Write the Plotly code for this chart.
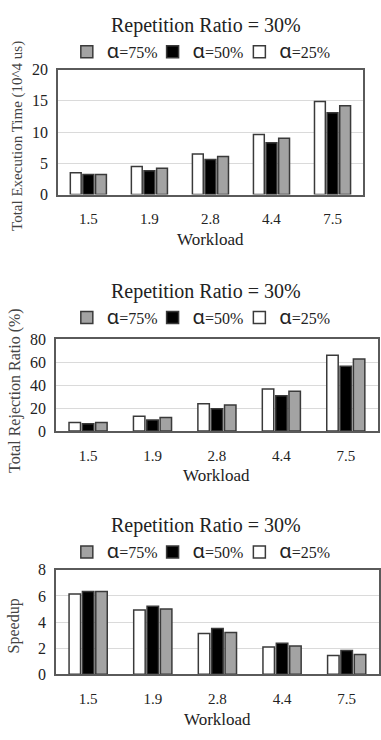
import plotly.graph_objects as go

workload = ["1.5", "1.9", "2.8", "4.4", "7.5"]
series_names = ["α=25%", "α=50%", "α=75%"]

exec_a25 = [3.5, 4.5, 6.5, 9.6, 14.9]
exec_a50 = [3.2, 3.8, 5.6, 8.3, 13.1]
exec_a75 = [3.2, 4.2, 6.1, 9.0, 14.2]

rej_a25 = [7.5, 12.9, 23.8, 36.7, 66.0]
rej_a50 = [6.3, 9.7, 19.5, 30.7, 56.5]
rej_a75 = [7.5, 11.8, 22.6, 34.7, 62.8]

spd_a25 = [6.15, 4.93, 3.12, 2.09, 1.44]
spd_a50 = [6.33, 5.21, 3.51, 2.37, 1.82]
spd_a75 = [6.33, 5.00, 3.21, 2.17, 1.52]

y_titles = ["Total Execution Time (10^4 us)", "Total Rejection Ratio (%)", "Speedup"]
y_ranges = [[0, 20], [0, 80], [0, 8]]
y_dticks = [5, 20, 2]
chart_title = "Repetition Ratio = 30%"

W, H = 381, 740
FONT = "Liberation Serif, Times New Roman, serif"
colors = ["#ffffff", "#000000", "#a3a3a3"]
# legend entry x positions (px of legend box left), one per series (25%, 50%, 75%)
legend_x = [240, 153, 67]

def px(x):
    return x / W

def py(y):
    return 1 - y / H

# pixel layout per panel: left, right, top, bottom, title_y, legend_y, xlabel_y, ytitle_x, ytitle_y, ytitle_size
panels = [
    (58, 364, 63, 191, 18, 45, 237, 18, 131, 15),
    (56, 379, 339, 433, 290, 317, 478, 15, 391, 16),
    (56, 380, 575, 682, 530, 557, 728, 15, 632, 16),
]

data = [
    (exec_a25, exec_a50, exec_a75),
    (rej_a25, rej_a50, rej_a75),
    (spd_a25, spd_a50, spd_a75),
]

fig = go.Figure()
annotations = []
layout = {}
for i, (vals, p) in enumerate(zip(data, panels)):
    left, right, top, bottom, title_y, legend_y, xlabel_y, ytitle_x, ytitle_y, ytitle_size = p
    n = "" if i == 0 else str(i + 1)
    xa, ya = "x" + n, "y" + n
    for j, v in enumerate(vals):
        label = series_names[j].split("=")[1]
        k = i * 3 + j + 1
        leg = "legend" if k == 1 else "legend" + str(k)
        fig.add_trace(go.Bar(
            x=workload, y=v,
            name="<span style='font-family:Noto Sans;font-size:20px'>α</span>=" + label,
            marker=dict(color=colors[j], line=dict(color="#3a3a3a", width=1.5)),
            xaxis=xa, yaxis=ya, legend=leg, showlegend=True,
        ))
        layout["legend" if k == 1 else "legend" + str(k)] = dict(
            orientation="h", x=px(legend_x[j]), y=py(legend_y), xanchor="left", yanchor="middle",
            font=dict(family=FONT, size=16, color="#222"),
            bgcolor="rgba(0,0,0,0)", itemclick=False,
        )
    layout["xaxis" + n] = dict(
        domain=[px(left), px(right)], anchor=ya, showline=True, mirror=True,
        linecolor="#5a5a5a", linewidth=1.5, ticks="", ticklabelstandoff=10,
        tickfont=dict(family=FONT, size=15, color="#222"), showgrid=False,
    )
    layout["yaxis" + n] = dict(
        domain=[py(bottom), py(top)], anchor=xa, range=y_ranges[i], dtick=y_dticks[i],
        showline=True, mirror=True, linecolor="#5a5a5a", linewidth=1.5,
        gridcolor="#dadada", gridwidth=1, zeroline=False, ticks="",
        tickfont=dict(family=FONT, size=16, color="#222"), ticklabelstandoff=5,
    )
    annotations.append(dict(text=chart_title, x=px(207), y=py(title_y), xref="paper", yref="paper",
                            showarrow=False, font=dict(family=FONT, size=20, color="#222"),
                            xanchor="center", yanchor="middle"))
    annotations.append(dict(text="Workload", x=(px(left) + px(right)) / 2, y=py(xlabel_y), xref="paper", yref="paper",
                            showarrow=False, font=dict(family=FONT, size=17, color="#222"),
                            xanchor="center", yanchor="middle"))
    annotations.append(dict(text=y_titles[i], x=px(ytitle_x), y=py(ytitle_y),
                            xref="paper", yref="paper", textangle=-90,
                            showarrow=False, font=dict(family=FONT, size=ytitle_size, color="#444"),
                            xanchor="center", yanchor="middle"))

fig.update_layout(
    width=W, height=H, margin=dict(l=0, r=0, t=0, b=0),
    paper_bgcolor="white", plot_bgcolor="white",
    barmode="group", bargap=0.38, bargroupgap=0.14,
    annotations=annotations, **layout,
)
fig.write_html("out.html")
